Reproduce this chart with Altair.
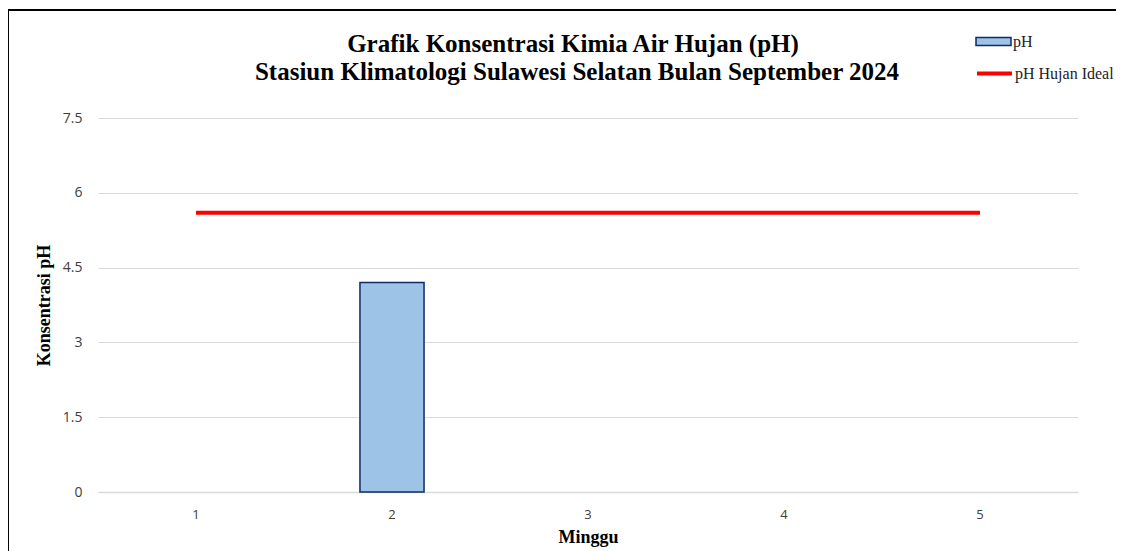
import altair as alt
import pandas as pd

minggu = ["1", "2", "3", "4", "5"]
ph_values = [None, 4.2, None, None, None]
ph_ideal = [5.6, 5.6, 5.6, 5.6, 5.6]
y_ticks = [0, 1.5, 3, 4.5, 6, 7.5]
title_lines = ["Grafik Konsentrasi Kimia Air Hujan (pH)",
               "Stasiun Klimatologi Sulawesi Selatan Bulan September 2024"]

df = pd.DataFrame({"Minggu": minggu, "pH": ph_values, "Ideal": ph_ideal})
df["s1"] = "pH"
df["s2"] = "pH Hujan Ideal"

serif = "Liberation Serif"
sans = "Open Sans"

x_enc = alt.X(
    "Minggu:N",
    sort=minggu,
    scale=alt.Scale(paddingInner=0.673, paddingOuter=0.3365),
    axis=alt.Axis(
        title="Minggu", titleFont=serif, titleFontSize=18, titleFontWeight="bold",
        titleColor="black", titlePadding=7,
        labelFont=sans, labelFontSize=13, labelColor="#404040", labelAngle=0,
        labelPadding=16, ticks=False, domainColor="#d9d9d9", domainWidth=1.5,
        grid=False,
    ),
)

bars = alt.Chart(df).mark_bar(stroke="#0f2a66", strokeWidth=1.5).encode(
    x=x_enc,
    y=alt.Y(
        "pH:Q",
        scale=alt.Scale(domain=[0, 7.5], nice=False),
        axis=alt.Axis(
            values=y_ticks, labelExpr="datum.value + ''", title="Konsentrasi pH",
            titleFont=serif, titleFontSize=18, titleFontWeight="bold",
            titleColor="black", titlePadding=9,
            labelFont=sans, labelFontSize=14, labelColor="#404040", labelPadding=16,
            ticks=False, domain=False, gridColor="#d9d9d9", gridWidth=1,
        ),
    ),
    fill=alt.Fill(
        "s1:N",
        scale=alt.Scale(domain=["pH"], range=["#9dc3e6"]),
        legend=alt.Legend(
            title=None, orient="none", legendX=877, legendY=-95,
            symbolType="M-1,-0.23H1V0.23H-1Z", symbolSize=1225,
            symbolStrokeColor="#0f2a66", symbolStrokeWidth=1.5,
            labelFont=serif, labelFontSize=16, labelColor="#222", labelOffset=1,
        ),
    ),
)

line = alt.Chart(df).mark_line(color="#ff0000", strokeWidth=4).encode(
    x=alt.X("Minggu:N", sort=minggu),
    y="Ideal:Q",
    stroke=alt.Stroke(
        "s2:N",
        scale=alt.Scale(domain=["pH Hujan Ideal"], range=["#ff0000"]),
        legend=alt.Legend(
            title=None, orient="none", legendX=877, legendY=-64,
            symbolType="stroke", symbolSize=1225, symbolStrokeWidth=4,
            labelFont=serif, labelFontSize=16, labelColor="#222", labelOffset=1,
        ),
    ),
)

t1 = alt.Chart(pd.DataFrame({"t": [title_lines[0]]})).mark_text(
    font=serif, fontSize=25, fontWeight="bold", color="black", align="center", baseline="middle"
).encode(text="t:N", x=alt.value(475), y=alt.value(-74))

t2 = alt.Chart(pd.DataFrame({"t": [title_lines[1]]})).mark_text(
    font=serif, fontSize=25, fontWeight="bold", color="black", align="center", baseline="middle"
).encode(text="t:N", x=alt.value(479), y=alt.value(-46))

border = alt.Chart(df).mark_rect(fill=None, stroke="black", strokeWidth=2).encode(
    x=alt.value(-90), x2=alt.value(1300), y=alt.value(-108), y2=alt.value(700)
)

chart = alt.layer(bars, line, t1, t2, border).properties(
    width=980,
    height=374,
    autosize=alt.AutoSizeParams(type="none"),
    padding={"left": 90, "top": 110, "right": 38, "bottom": 59},
).configure_view(stroke=None)

chart.save("out.html", embed_options={"renderer": "svg", "actions": False})
